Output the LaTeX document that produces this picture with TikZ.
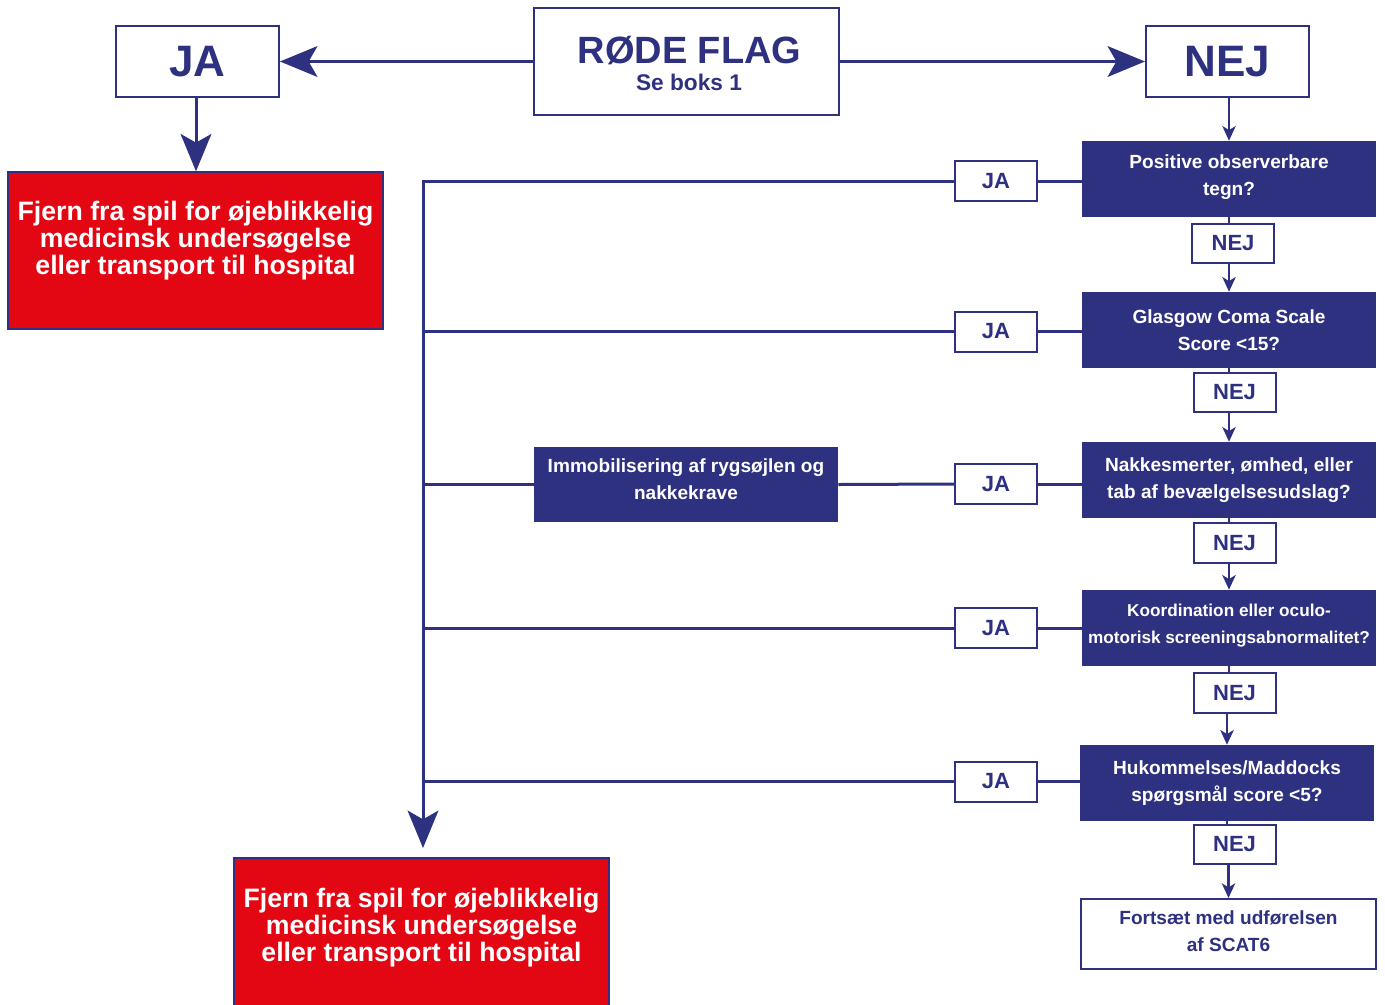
\documentclass[tikz,border=0pt]{standalone}
\usepackage{fontspec}
\setmainfont{Liberation Sans}
\usetikzlibrary{arrows.meta}
\definecolor{navy}{RGB}{46,49,128}
\definecolor{flagred}{RGB}{227,6,19}
\begin{document}
\begin{tikzpicture}[x=0.75pt,y=-0.75pt,
  conn/.style={draw=navy, line width=2.25pt},
  vconn/.style={draw=navy, line width=1.8pt},
  bigtip/.style={-{Stealth[length=28pt,width=23pt,inset=6.5pt]}},
  smalltip/.style={-{Stealth[length=11pt,width=10pt,inset=3pt]}},
  outline/.style={draw=navy, line width=1.5pt, fill=white, text=navy, inner sep=0pt, align=center},
  bigword/.style={outline, font=\fontsize{33}{36}\selectfont\bfseries, minimum width=122.25pt, minimum height=53.25pt},
  smallword/.style={outline, font=\fontsize{16.5}{18}\selectfont\bfseries, minimum width=61.5pt, minimum height=29.5pt},
  question/.style={fill=navy, text=white, inner sep=0pt, align=center, font=\fontsize{14.3}{20.25}\selectfont\bfseries, minimum width=220.5pt, minimum height=57pt},
  alarm/.style={fill=flagred, draw=navy, line width=1pt, minimum width=281.25pt, inner sep=0pt},
  alarmtext/.style={text=white, align=center, font=\fontsize{20}{20.25}\selectfont\bfseries, inner sep=0pt},
]
\useasboundingbox (0,0) rectangle (1385,1004);

% top row
\node[outline, minimum width=228.75pt, minimum height=80.25pt] (rf) at (686.5,61.5) {};
\node[text=navy, font=\fontsize{28.5}{30}\selectfont\bfseries, anchor=base, inner sep=0pt] (rftitle) at (689.5,63) {RØDE FLAG};
\node[text=navy, font=\fontsize{17}{20}\selectfont\bfseries, anchor=base, inner sep=0pt] (rfsub) at (689,90) {Se boks 1};
\node[bigword] (jaTop) at (197.5,61.5) {JA};
\node[bigword] (nejTop) at (1227.5,61.5) {NEJ};

% red boxes
\node[alarm, minimum height=117.75pt] (red1) at (195.5,250.5) {};
\node[alarmtext] (red1text) at (195.5,240.5) {Fjern fra spil for øjeblikkelig\\medicinsk undersøgelse\\eller transport til hospital};
\node[alarm, minimum height=114pt] (red2) at (421.5,934) {};
\node[alarmtext] (red2text) at (421.5,927.5) {Fjern fra spil for øjeblikkelig\\medicinsk undersøgelse\\eller transport til hospital};

% questions
\node[question, text depth=6pt] (q1) at (1229,179) {Positive observerbare\\tegn?};
\node[question] (q2) at (1229,330) {Glasgow Coma Scale\\Score <15?};
\node[question] (q3) at (1229,480) {Nakkesmerter, ømhed, eller\\tab af bevælgelsesudslag?};
\node[question, text depth=5.7pt, font=\fontsize{12.9}{20.25}\selectfont\bfseries] (q4) at (1229,628) {Koordination eller oculo-\\motorisk screeningsabnormalitet?};
\node[question] (q5) at (1227,783) {Hukommelses/Maddocks\\spørgsmål score <5?};
\node[outline, text depth=4.5pt, font=\fontsize{14.3}{20.25}\selectfont\bfseries, minimum width=221.25pt, minimum height=52.5pt] (final) at (1228.5,934) {Fortsæt med udførelsen\\af SCAT6};

% immobilisation
\node[question, text depth=7.5pt, minimum width=228pt, minimum height=56.25pt] (immob) at (686,484.5) {Immobilisering af rygsøjlen og\\nakkekrave};

% JA boxes
\node[smallword, minimum height=30pt] (ja1) at (996,181) {JA};
\node[smallword, minimum height=30pt] (ja2) at (996,331.5) {JA};
\node[smallword, minimum height=30pt] (ja3) at (996,484) {JA};
\node[smallword, minimum height=30pt] (ja4) at (996,628) {JA};
\node[smallword, minimum height=30pt] (ja5) at (996,781.5) {JA};

% NEJ boxes
\node[smallword] (nej1) at (1233,243.5) {NEJ};
\node[smallword] (nej2) at (1234.5,392.5) {NEJ};
\node[smallword] (nej3) at (1234.5,543) {NEJ};
\node[smallword] (nej4) at (1234.5,693) {NEJ};
\node[smallword] (nej5) at (1234.5,844.5) {NEJ};

% trunk
\coordinate (tt) at (423,181);
\coordinate (te) at (423,848);

% top arrows
\draw[conn,bigtip] (rf.west |- jaTop.east) -- (jaTop.east);
\draw[conn,bigtip] (rf.east |- nejTop.west) -- (nejTop.west);
\draw[conn,bigtip] (jaTop.south -| 196,0) -- (red1.north -| 196,0);
\draw[vconn,smalltip] (nejTop.south -| q1.north) -- (q1.north);

% NEJ chain
\draw[vconn] (q1.south) -- (q1.south |- nej1.north);
\draw[vconn,smalltip] (nej1.south -| q2.north) -- (q2.north);
\draw[vconn] (q2.south) -- (q2.south |- nej2.north);
\draw[vconn,smalltip] (nej2.south -| q3.north) -- (q3.north);
\draw[vconn] (q3.south) -- (q3.south |- nej3.north);
\draw[vconn,smalltip] (nej3.south -| q4.north) -- (q4.north);
\draw[vconn] (q4.south) -- (q4.south |- nej4.north);
\draw[vconn,smalltip] (nej4.south -| q5.north) -- (q5.north);
\draw[vconn] (q5.south) -- (q5.south |- nej5.north);
\draw[vconn,smalltip] (nej5.south -| final.north) -- (final.north);

% JA to questions
\draw[conn] (ja1.east) -- (ja1.east -| q1.west);
\draw[conn] (ja2.east) -- (ja2.east -| q2.west);
\draw[conn] (ja3.east) -- (ja3.east -| q3.west);
\draw[conn] (ja4.east) -- (ja4.east -| q4.west);
\draw[conn] (ja5.east) -- (ja5.east -| q5.west);

% JA to trunk
\draw[conn,bigtip] (ja1.west) -- (tt) -- (te);
\draw[conn] (ja2.west) -- (ja2.west -| tt);
\draw[conn] (ja3.west) -- (immob.east);
\draw[conn] (immob.west) -- (immob.west -| tt);
\draw[conn] (ja4.west) -- (ja4.west -| tt);
\draw[conn] (ja5.west) -- (ja5.west -| tt);
\end{tikzpicture}
\end{document}
